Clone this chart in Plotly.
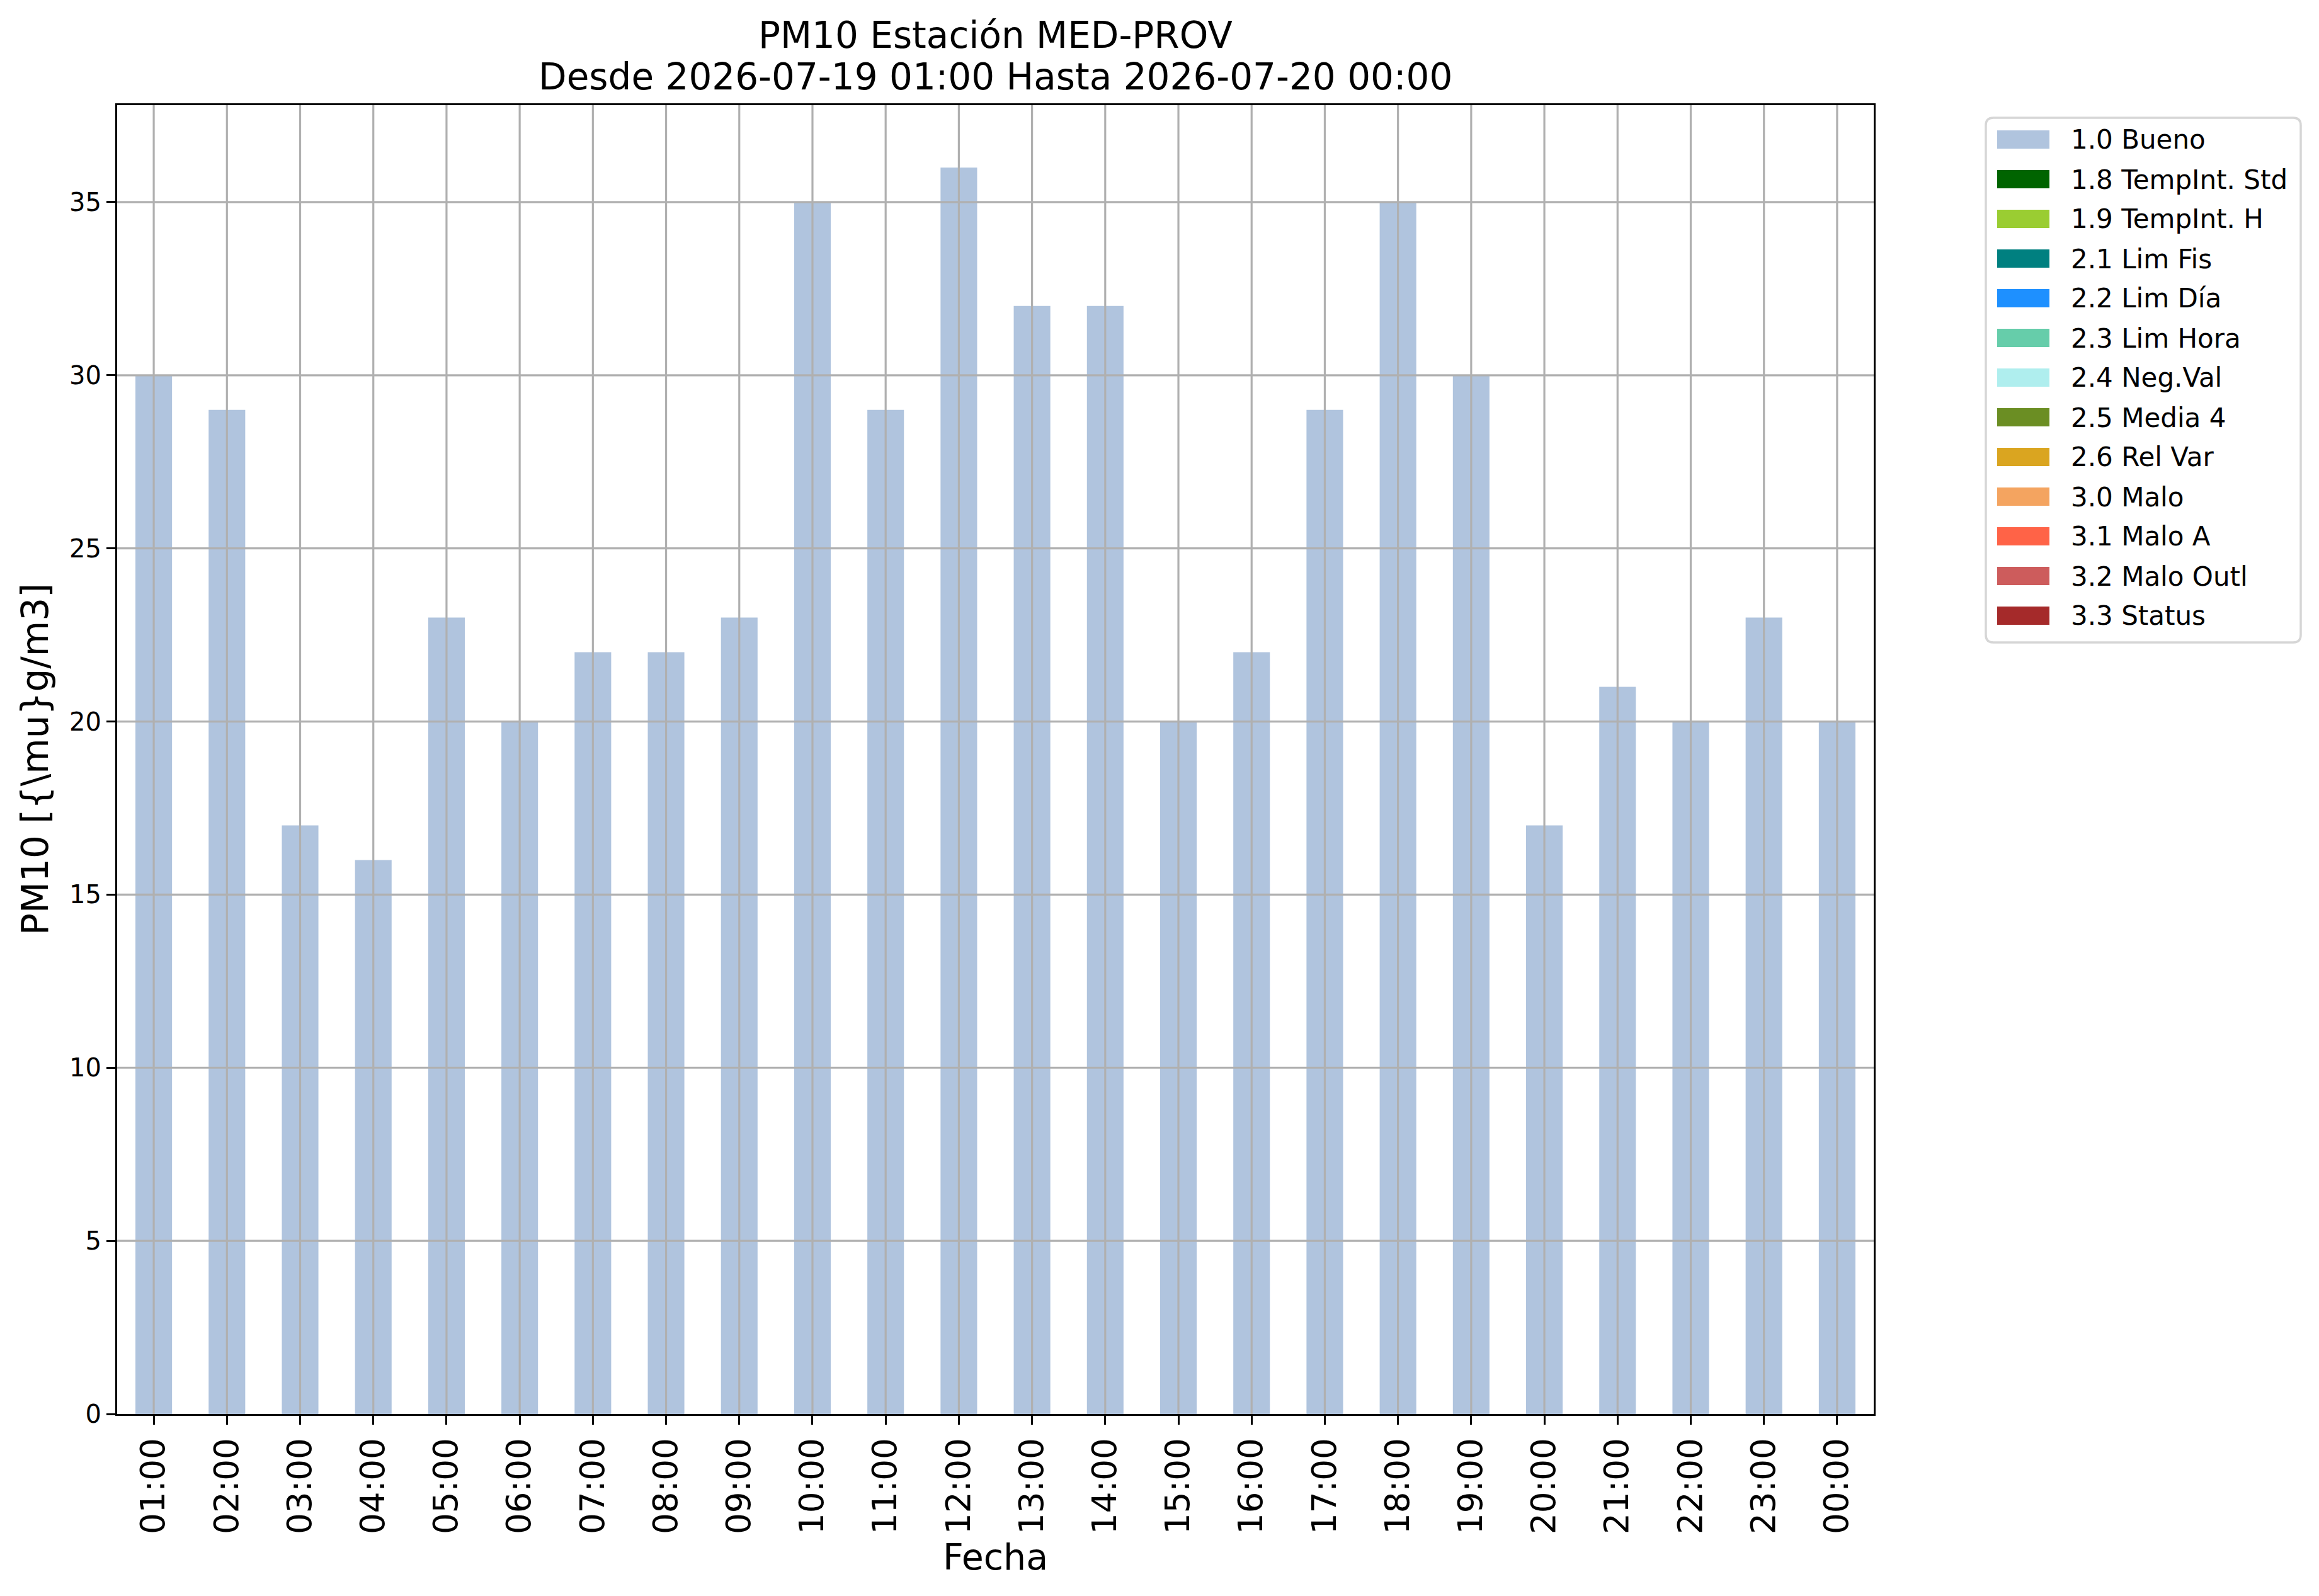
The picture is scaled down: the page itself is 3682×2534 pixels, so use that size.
import plotly.graph_objects as go

# PM10 hourly values, station MED-PROV
hours = ["01:00", "02:00", "03:00", "04:00", "05:00", "06:00", "07:00", "08:00",
         "09:00", "10:00", "11:00", "12:00", "13:00", "14:00", "15:00", "16:00",
         "17:00", "18:00", "19:00", "20:00", "21:00", "22:00", "23:00", "00:00"]
pm10_bueno = [30, 29, 17, 16, 23, 20, 22, 22, 23, 35, 29, 36,
              32, 32, 20, 22, 29, 35, 30, 17, 21, 20, 23, 20]
y_ticks = [0, 5, 10, 15, 20, 25, 30, 35]
y_max = 37.8

flag_labels = ["1.0 Bueno", "1.8 TempInt. Std", "1.9 TempInt. H", "2.1 Lim Fis",
               "2.2 Lim Día", "2.3 Lim Hora", "2.4 Neg.Val", "2.5 Media 4",
               "2.6 Rel Var", "3.0 Malo", "3.1 Malo A", "3.2 Malo Outl", "3.3 Status"]
flag_colors = ["#B0C4DE", "#006400", "#9ACD32", "#008080", "#1E90FF", "#66CDAA",
               "#AFEEEE", "#6B8E23", "#DAA520", "#F4A460", "#FF6347", "#CD5C5C",
               "#A52A2A"]

title_1 = "PM10 Estación MED-PROV"
title_2 = "Desde 2026-07-19 01:00 Hasta 2026-07-20 00:00"

W, H = 3682, 2534
L, R, T, B = 186, 2975, 167, 2245
OFF = 8  # page body margin in the browser
FONT = "DejaVu Sans"
GRID = "#b0b0b0"


def px_x(p):
    return (p - L) / (R - L)


def px_y(p):
    return (B - p) / (B - T)


fig = go.Figure()
fig.add_trace(go.Bar(x=hours, y=pm10_bueno, width=0.5, marker_color=flag_colors[0],
                     marker_line_width=0, name=flag_labels[0], showlegend=False))

shapes = []
# grid drawn over the bars, like the original
for h in hours:
    shapes.append(dict(type="line", xref="x", yref="paper", x0=h, x1=h, y0=0, y1=1,
                       line=dict(color=GRID, width=3.2), layer="above"))
for v in y_ticks[1:]:
    shapes.append(dict(type="line", xref="paper", yref="y", x0=0, x1=1, y0=v, y1=v,
                       line=dict(color=GRID, width=3.2), layer="above"))

annotations = [
    dict(text=title_1, x=0.5, y=px_y(56), xref="paper", yref="paper",
         xanchor="center", yanchor="middle", showarrow=False,
         font=dict(family=FONT, size=58, color="black")),
    dict(text=title_2, x=0.5, y=px_y(122), xref="paper", yref="paper",
         xanchor="center", yanchor="middle", showarrow=False,
         font=dict(family=FONT, size=58, color="black")),
    dict(text="Fecha", x=0.5, y=px_y(2472), xref="paper", yref="paper",
         xanchor="center", yanchor="middle", showarrow=False,
         font=dict(family=FONT, size=57, color="black")),
    dict(text="PM10 [{\\mu}g/m3]", x=px_x(56), y=0.5, xref="paper", yref="paper",
         xanchor="center", yanchor="middle", showarrow=False, textangle=-90,
         font=dict(family=FONT, size=58, color="black")),
]

# legend box (matplotlib style) built from the flag lists
lx0, lx1, ly0, ly1, rad = 3153, 3653, 187, 1020, 12
X = px_x
Y = px_y
path = (f"M{X(lx0 + rad)},{Y(ly0)} L{X(lx1 - rad)},{Y(ly0)} Q{X(lx1)},{Y(ly0)} {X(lx1)},{Y(ly0 + rad)} "
        f"L{X(lx1)},{Y(ly1 - rad)} Q{X(lx1)},{Y(ly1)} {X(lx1 - rad)},{Y(ly1)} "
        f"L{X(lx0 + rad)},{Y(ly1)} Q{X(lx0)},{Y(ly1)} {X(lx0)},{Y(ly1 - rad)} "
        f"L{X(lx0)},{Y(ly0 + rad)} Q{X(lx0)},{Y(ly0)} {X(lx0 + rad)},{Y(ly0)} Z")
shapes.append(dict(type="path", xref="paper", yref="paper", path=path,
                   fillcolor="white", line=dict(color="#d6d6d6", width=3.5), layer="above"))
pitch = 63
for i, (lab, col) in enumerate(zip(flag_labels, flag_colors)):
    top = 207 + i * pitch
    shapes.append(dict(type="rect", xref="paper", yref="paper",
                       x0=X(3171), x1=X(3254), y0=Y(top + 29), y1=Y(top),
                       fillcolor=col, line=dict(width=0), layer="above"))
    annotations.append(dict(text=lab, x=X(3286), y=Y(top + 15), xref="paper", yref="paper",
                            xanchor="left", yanchor="middle", showarrow=False,
                            font=dict(family=FONT, size=42, color="black")))

fig.update_layout(
    width=W, height=H,
    margin=dict(l=L - OFF, r=W - R + OFF, t=T - OFF, b=H - B + OFF, autoexpand=False),
    paper_bgcolor="white", plot_bgcolor="white",
    font=dict(family=FONT, color="black"),
    shapes=shapes, annotations=annotations,
    showlegend=False,
)
fig.update_xaxes(type="category", range=[-0.5, len(hours) - 0.5], showgrid=False,
                 showline=True, mirror=True, linecolor="black", linewidth=3.2,
                 ticks="outside", ticklen=14, tickwidth=3.2, tickcolor="black",
                 tickangle=-90, tickfont=dict(family=FONT, size=53, color="black"),
                 automargin=False)
fig.update_yaxes(range=[0, y_max], tickvals=y_ticks, showgrid=False, zeroline=False,
                 showline=True, mirror=True, linecolor="black", linewidth=3.2,
                 ticks="outside", ticklen=14, tickwidth=3.2, tickcolor="black",
                 tickfont=dict(family=FONT, size=40, color="black"),
                 automargin=False)

fig.write_html("out.html")
